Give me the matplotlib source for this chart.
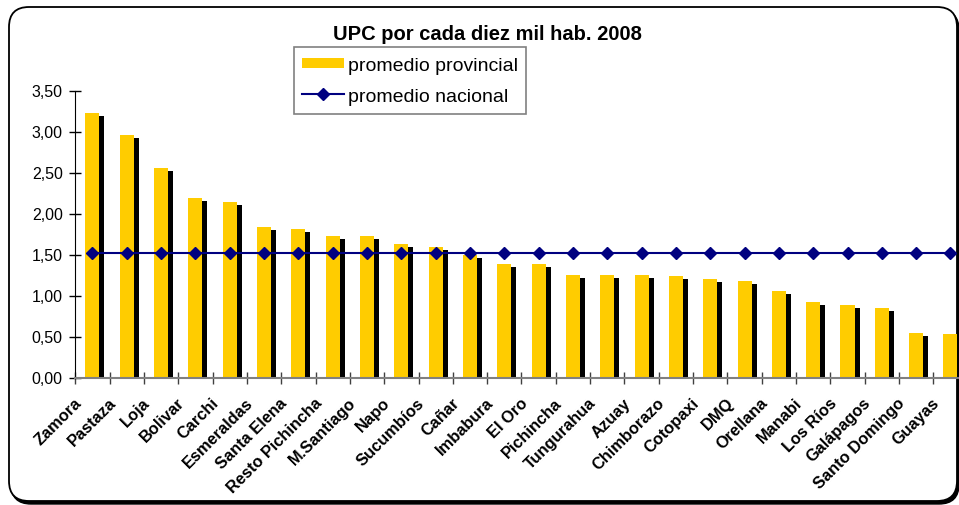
import matplotlib
matplotlib.use("Agg")
import matplotlib.pyplot as plt
import matplotlib.patheffects as pe
import matplotlib.transforms as mtransforms
from matplotlib.patches import FancyBboxPatch
from matplotlib.lines import Line2D
from matplotlib.ticker import FuncFormatter
import numpy as np

plt.rcParams['font.family'] = ['Liberation Sans', 'DejaVu Sans']

provincias = ['Zamora', 'Pastaza', 'Loja', 'Bolivar', 'Carchi', 'Esmeraldas',
              'Santa Elena', 'Resto Pichincha', 'M.Santiago', 'Napo', 'Sucumbíos',
              'Cañar', 'Imbabura', 'El Oro', 'Pichincha', 'Tungurahua', 'Azuay',
              'Chimborazo', 'Cotopaxi', 'DMQ', 'Orellana', 'Manabi', 'Los Ríos',
              'Galápagos', 'Santo Domingo', 'Guayas']
provincial = [3.23, 2.96, 2.56, 2.19, 2.14, 1.84, 1.81, 1.73, 1.73, 1.63, 1.59,
              1.50, 1.39, 1.39, 1.25, 1.25, 1.25, 1.24, 1.20, 1.18, 1.06, 0.92,
              0.89, 0.85, 0.545, 0.53]
nacional = [1.52] * len(provincias)
yticks = [0, 0.5, 1.0, 1.5, 2.0, 2.5, 3.0, 3.5]

amarillo = '#FFCC00'
azul = '#000080'

fig = plt.figure(figsize=(9.59, 5.05), dpi=100)

# marco redondeado con sombra
sombra = FancyBboxPatch((11, 1), 948, 494, boxstyle='round,pad=0,rounding_size=20',
                        transform=mtransforms.IdentityTransform(),
                        facecolor='black', edgecolor='black', zorder=-2)
marco = FancyBboxPatch((9, 4), 948, 494, boxstyle='round,pad=0,rounding_size=20',
                       transform=mtransforms.IdentityTransform(),
                       facecolor='white', edgecolor='black', linewidth=1.3, zorder=-1)
fig.patches.extend([sombra, marco])

n = len(provincias)
ax = fig.add_axes([75.3 / 959, 127.3 / 505, n * 34.32 / 959, 287 / 505])
ax.set_facecolor('none')
x = np.arange(n)

bars = ax.bar(x, provincial, width=0.41, color=amarillo, zorder=2)
for b in bars:
    b.set_path_effects([pe.SimplePatchShadow(offset=(3.6, -2.2), shadow_rgbFace='black',
                                             alpha=1.0), pe.Normal()])

ax.plot(x, nacional, color=azul, marker='D', markersize=6.5, linewidth=1.5, zorder=3)

ax.set_xlim(-0.5, n - 0.5)
ax.set_ylim(0, 3.5)
ax.set_yticks(yticks)
ax.yaxis.set_major_formatter(FuncFormatter(lambda v, p: f"{v:.2f}".replace('.', ',')))
ax.tick_params(axis='y', direction='inout', length=8, width=1, pad=5,
               labelsize=11.5, colors='black')

ax.set_xticks(np.arange(-0.5, n, 1))
ax.set_xticklabels([])
ax.set_xticks(x, provincias, minor=True)
ax.tick_params(axis='x', which='major', direction='inout', length=8, width=1, color='#404040')
ax.tick_params(axis='x', which='minor', length=0, pad=13)
offset = mtransforms.ScaledTranslation(-13.5 / 72, 0, fig.dpi_scale_trans)
for lab in ax.get_xticklabels(minor=True):
    lab.set_rotation(45)
    lab.set_ha('right')
    lab.set_va('top')
    lab.set_rotation_mode('anchor')
    lab.set_fontweight('bold')
    lab.set_fontsize(11.8)
    lab.set_transform(lab.get_transform() + offset)

for s in ['top', 'right']:
    ax.spines[s].set_visible(False)
ax.spines['left'].set_color('black')
ax.spines['bottom'].set_color('#808080')
ax.spines['bottom'].set_linewidth(1.5)
ax.spines['bottom'].set_zorder(4)

fig.text(487 / 959, (505 - 34) / 505, 'UPC por cada diez mil hab. 2008',
         ha='center', va='center', fontsize=14.5, fontweight='bold')

handles = [Line2D([], [], color=amarillo, linewidth=7.2, solid_capstyle='butt'),
           Line2D([], [], color=azul, marker='D', markersize=6.5, linewidth=1.5)]
leg = fig.legend(handles, ['promedio provincial', 'promedio nacional'],
                 loc='upper left', bbox_to_anchor=(294 / 959, (505 - 47) / 505),
                 borderaxespad=0, fontsize=14, frameon=True, fancybox=False,
                 edgecolor='#808080', framealpha=1, handlelength=2.15,
                 handleheight=1.1, handletextpad=0.25, borderpad=0.4,
                 labelspacing=0.6)
leg.get_frame().set_linewidth(1.2)

fig.savefig('out.png', dpi=100)
